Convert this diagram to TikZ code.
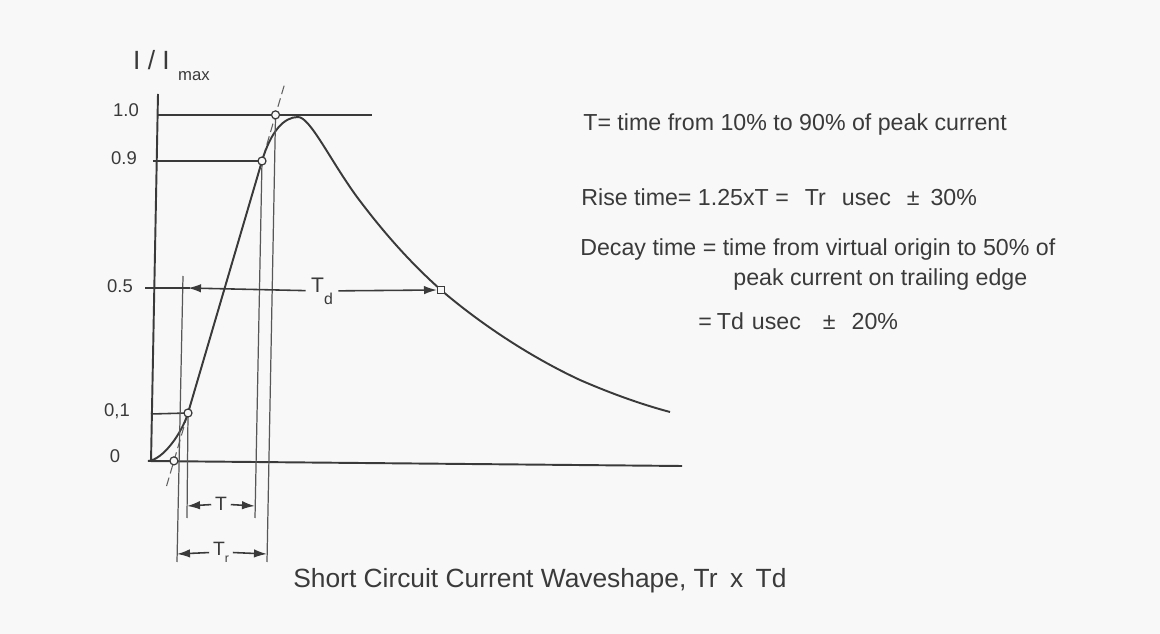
\documentclass[tikz,border=0pt]{standalone}
\usepackage{fontspec}
\setmainfont{Liberation Sans}
\usetikzlibrary{arrows.meta,calc}
\usepackage{xcolor}
\definecolor{Ink}{HTML}{3A3A3A}
\definecolor{Paper}{HTML}{F8F8F8}

\begin{document}
\begin{tikzpicture}[x=0.02cm,y=-0.02cm,>={Latex[length=2.6mm,width=1.7mm]}]
\fill[Paper] (0,0) rectangle (1160,634);
\useasboundingbox (0,0) rectangle (1160,634);
% points of the wave
\coordinate (p10) at (188,413);
\coordinate (p90) at (262,161);
\coordinate (pk) at (298,117);
\coordinate (p50) at (441,290);
\coordinate (vo) at ($(p10)!-0.19!(p90)$);
\coordinate (p100) at ($(p10)!1.183!(p90)$);
\coordinate (extlo) at ($(p10)!-0.29!(p90)$);
\coordinate (exthi) at ($(p10)!1.30!(p90)$);
% axes
\coordinate (ytop) at (158,94);
\coordinate (ybot) at (151,462);
\coordinate (xl) at (148,461);
\coordinate (xr) at (682,466);
\draw[Ink,line width=1.1pt] (ytop) -- (ybot);
\draw[Ink,line width=1.1pt] (xl) -- (xr);
\node[Ink,font=\fontsize{15}{16}\selectfont,anchor=west] (ilab) at (127,60) {I / I};
\node[Ink,font=\fontsize{9.5}{10}\selectfont,anchor=west,inner sep=1pt] (maxlab) at (ilab.south east) {max};
\node[Ink,font=\fontsize{10.5}{12}\selectfont] (l100) at (126,110) {1.0};
\node[Ink,font=\fontsize{10.5}{12}\selectfont] (l90) at (124,158) {0.9};
\node[Ink,font=\fontsize{10.5}{12}\selectfont] (l50) at (120,286) {0.5};
\node[Ink,font=\fontsize{10.5}{12}\selectfont] (l10) at (117,411) {0,1};
\node[Ink,font=\fontsize{10.5}{12}\selectfont] (l0) at (115,456) {0};
% level lines
\draw[Ink,line width=0.9pt] (158,115) -- (372,115);
\draw[Ink,line width=0.9pt] (153,161) -- (p90);
\draw[Ink,line width=0.9pt] (151,414) -- (p10);
% extended rise line
\draw[Ink!80,line width=0.6pt,dash pattern=on 5pt off 2.5pt] (extlo) -- (exthi);
% wave
\draw[Ink,line width=1.1pt] (xl) .. controls (163,460) and (182,433) .. (p10) -- (p90)
  .. controls (271,131) and (284,117) .. (pk)
  .. controls (310,117) and (330,160) .. (357,197)
  .. controls (378,225) and (405,258) .. (p50)
  .. controls (470,315) and (520,352) .. (580,380)
  .. controls (610,393) and (640,404) .. (670,412);
% verticals
\draw[Ink!85,line width=0.7pt] (183,276) -- (177,562);
\draw[Ink!85,line width=0.7pt] (p10) -- (187,518);
\draw[Ink!85,line width=0.7pt] (p90) -- (255,518);
\draw[Ink!85,line width=0.7pt] (p100) -- (267,562);
% T_d
\draw[Ink,line width=0.9pt] (145,288) -- (190,288);
\node[Ink,font=\fontsize{12}{13}\selectfont,inner sep=3pt] (tdlab) at (322,291) {T\raisebox{-1.1ex}{\fontsize{9}{10}\selectfont d}};
\coordinate (tdl) at (188,288);
\coordinate (tdr) at (437,290);
\draw[->,Ink,line width=0.9pt] (tdlab) -- (tdl);
\draw[->,Ink,line width=0.9pt] (tdlab) -- (tdr);
% T and T_r
\node[Ink,font=\fontsize{11}{12}\selectfont,inner sep=2pt] (tlab) at (221,504) {T};
\coordinate (tl) at (187,506);
\coordinate (tr) at (255,506);
\draw[->,Ink,line width=0.9pt] (tlab) -- (tl);
\draw[->,Ink,line width=0.9pt] (tlab) -- (tr);
\node[Ink,font=\fontsize{11}{12}\selectfont,inner sep=2pt] (trlab) at (221,552) {T\raisebox{-0.7ex}{\fontsize{7}{8}\selectfont r}};
\coordinate (rl) at (177,554);
\coordinate (rr) at (267,554);
\draw[->,Ink,line width=0.9pt] (trlab) -- (rl);
\draw[->,Ink,line width=0.9pt] (trlab) -- (rr);
% markers
\foreach \p in {vo,p10,p90,p100}
  \draw[Ink,line width=0.7pt,fill=Paper] (\p) circle (0.08cm);
\draw[Ink,line width=0.7pt,fill=Paper] ($(p50)+(-3.5,-3.5)$) rectangle ($(p50)+(3.5,3.5)$);
% notes
\node[Ink,font=\fontsize{13.2}{15}\selectfont,anchor=west,inner sep=0pt] (defT) at (583,125) {T= time from 10\% to 90\% of peak current};
\node[Ink,font=\fontsize{13.2}{15}\selectfont,anchor=west,inner sep=0pt] (defTr) at (581,197) {Rise time= 1.25xT =\hspace{0.32cm}Tr\hspace{0.32cm}usec\hspace{0.32cm}±\hspace{0.22cm}30\%};
\node[Ink,font=\fontsize{13.2}{15}\selectfont,anchor=west,inner sep=0pt] (defTd) at (580,250) {Decay time = time from virtual origin to 50\% of};
\node[Ink,font=\fontsize{13.2}{15}\selectfont,anchor=west,inner sep=0pt] (defTd2) at (733,280) {peak current on trailing edge};
\node[Ink,font=\fontsize{13.2}{15}\selectfont,anchor=west,inner sep=0pt] (defTdv) at (698,321) {=\hspace{0.1cm}Td\hspace{0.16cm}usec\hspace{0.44cm}±\hspace{0.32cm}20\%};
\node[Ink,font=\fontsize{15}{16}\selectfont,anchor=west,inner sep=0pt] (title) at (293,581) {Short Circuit Current Waveshape, Tr\hspace{0.25cm}x\hspace{0.25cm}Td};
\end{tikzpicture}
\end{document}
